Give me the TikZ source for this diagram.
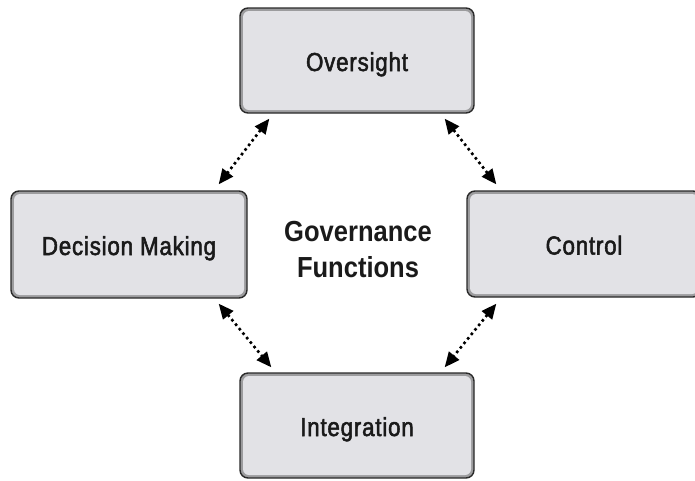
\documentclass[tikz,border=0pt]{standalone}
\usepackage{fontspec}
\setmainfont[FakeStretch=0.88]{Liberation Sans}
\newfontfamily\boxfont[FakeStretch=0.86,FakeBold=2,LetterSpace=3]{Liberation Sans}
\usetikzlibrary{arrows.meta}
\definecolor{boxfill}{HTML}{E2E2E6}
\definecolor{boxband}{HTML}{9C9C9E}
\definecolor{boxline}{HTML}{2A2A2A}
\definecolor{txt}{HTML}{1A1A1A}
\tikzset{
  govbox/.style={draw=boxline, line width=1.4pt, fill=boxband, rounded corners=8pt,
    minimum width=234pt, minimum height=105pt, inner sep=0pt, text=txt,
    font=\boxfont\fontsize{26}{30}\selectfont, text height=21pt, text depth=0pt,
    path picture={\fill[boxfill, rounded corners=6pt]
      ([shift={(3pt,3pt)}]path picture bounding box.south west) rectangle
      ([shift={(-3pt,-3pt)}]path picture bounding box.north east);}},
  link/.style={line width=2.6pt, dash pattern=on 2.6pt off 3.2pt, draw=black,
    {Triangle[length=15pt,width=13pt]}-{Triangle[length=15pt,width=13pt]}}
}
\begin{document}
\begin{tikzpicture}[x=1pt,y=-1pt]
\useasboundingbox (0,0) rectangle (695,480);
\fill[white] (0,0) rectangle (695,480);
\node[govbox] (O) at (357,60.5) {Oversight};
\node[govbox, minimum width=236pt, minimum height=107pt] (D) at (129,244.5) {Decision Making};
\node[govbox, minimum height=106pt] (C) at (584,244) {Control};
\node[govbox] (I) at (357,425.5) {Integration};
\node[text=txt, font=\bfseries\fontsize{29}{36}\selectfont, align=center] (G) at (358,250) {Governance\\Functions};
\draw[link] ([shift={(30pt,-5pt)}]O.south west) -- ([shift={(-29pt,6pt)}]D.north east);
\draw[link] ([shift={(-30pt,-5pt)}]O.south east) -- ([shift={(30pt,6pt)}]C.north west);
\draw[link] ([shift={(-29pt,-5pt)}]D.south east) -- ([shift={(32pt,5pt)}]I.north west);
\draw[link] ([shift={(30pt,-6pt)}]C.south west) -- ([shift={(-30pt,5pt)}]I.north east);
\end{tikzpicture}
\end{document}
